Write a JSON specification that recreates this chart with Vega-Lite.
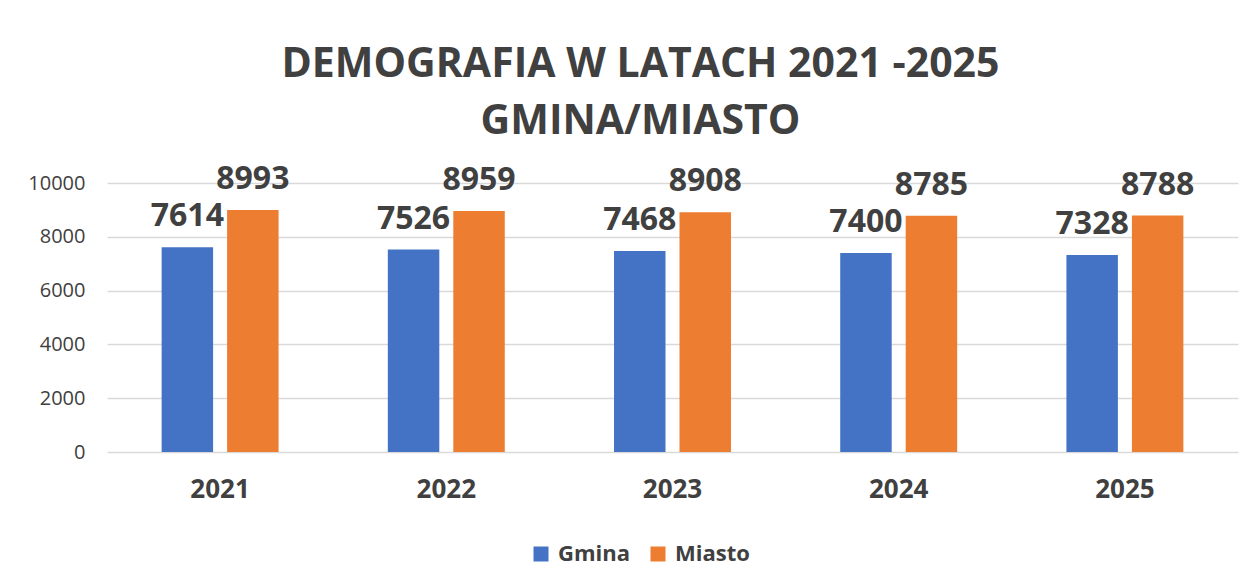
{
  "$schema": "https://vega.github.io/schema/vega-lite/v6.json",
  "width": 1131,
  "height": 269,
  "autosize": {"type": "none"},
  "padding": {"left": 107, "top": 183, "right": 18, "bottom": 132},
  "background": "white",
  "title": {
    "text": ["DEMOGRAFIA W LATACH 2021 -2025", "GMINA/MIASTO"],
    "font": "Open Sans",
    "fontSize": 41,
    "fontWeight": "bold",
    "color": "#404040",
    "anchor": "middle",
    "frame": "group",
    "dx": -32,
    "lineHeight": 57,
    "offset": 20
  },
  "data": {
    "values": [
      {"rok": "2021", "seria": "Gmina", "wartosc": 7614},
      {"rok": "2021", "seria": "Miasto", "wartosc": 8993},
      {"rok": "2022", "seria": "Gmina", "wartosc": 7526},
      {"rok": "2022", "seria": "Miasto", "wartosc": 8959},
      {"rok": "2023", "seria": "Gmina", "wartosc": 7468},
      {"rok": "2023", "seria": "Miasto", "wartosc": 8908},
      {"rok": "2024", "seria": "Gmina", "wartosc": 7400},
      {"rok": "2024", "seria": "Miasto", "wartosc": 8785},
      {"rok": "2025", "seria": "Gmina", "wartosc": 7328},
      {"rok": "2025", "seria": "Miasto", "wartosc": 8788}
    ]
  },
  "encoding": {
    "x": {
      "field": "rok",
      "type": "nominal",
      "scale": {"paddingInner": 0.483, "paddingOuter": 0.2415},
      "axis": {
        "title": null,
        "labelAngle": 0,
        "labelFont": "Open Sans",
        "labelFontSize": 26,
        "labelFontWeight": "bold",
        "labelColor": "#404040",
        "labelPadding": 24,
        "ticks": false,
        "domain": false
      }
    },
    "xOffset": {
      "field": "seria",
      "type": "nominal",
      "scale": {"paddingInner": 0.214, "paddingOuter": 0}
    },
    "y": {
      "field": "wartosc",
      "type": "quantitative",
      "scale": {"domain": [0, 10000]},
      "axis": {
        "title": null,
        "values": [0, 2000, 4000, 6000, 8000, 10000],
        "format": "d",
        "labelFont": "Open Sans",
        "labelFontSize": 20,
        "labelColor": "#404040",
        "labelPadding": 22,
        "ticks": false,
        "domain": false,
        "grid": true,
        "gridColor": "#d9d9d9",
        "gridWidth": 1.5
      }
    }
  },
  "layer": [
    {
      "mark": {"type": "bar"},
      "encoding": {
        "color": {
          "field": "seria",
          "type": "nominal",
          "scale": {"domain": ["Gmina", "Miasto"], "range": ["#4472C4", "#ED7D31"]},
          "legend": {
            "title": null,
            "orient": "none",
            "direction": "horizontal",
            "legendX": 423,
            "legendY": 360,
            "symbolType": "square",
            "symbolSize": 225,
            "symbolStrokeWidth": 0,
            "labelFont": "Open Sans",
            "labelFontSize": 22,
            "labelFontWeight": "bold",
            "labelColor": "#404040",
            "labelOffset": 6,
            "columnPadding": 17
          }
        }
      }
    },
    {
      "mark": {
        "type": "text",
        "baseline": "bottom",
        "dy": -14,
        "font": "Open Sans",
        "fontSize": 32,
        "fontWeight": "bold",
        "color": "#404040"
      },
      "encoding": {
        "text": {"field": "wartosc", "type": "quantitative", "format": "d"}
      }
    }
  ],
  "config": {
    "view": {"stroke": null}
  }
}
